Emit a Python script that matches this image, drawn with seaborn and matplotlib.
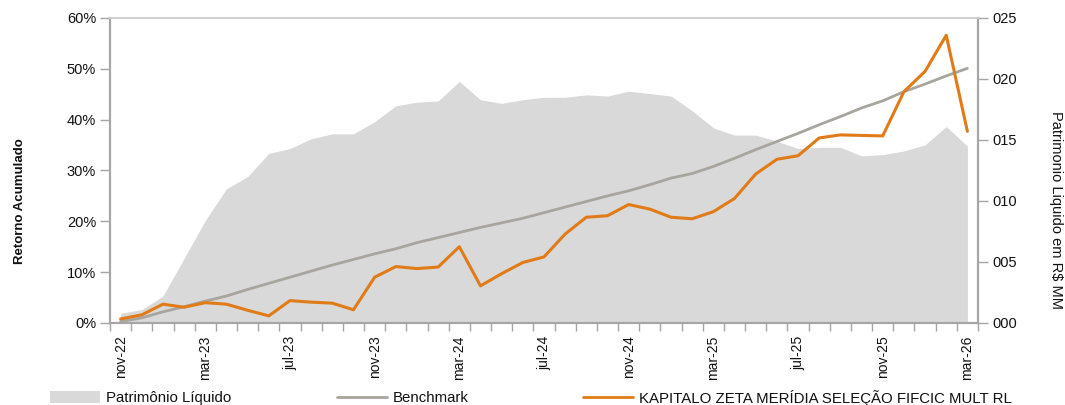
import matplotlib
matplotlib.use("Agg")
import matplotlib.pyplot as plt
from matplotlib.lines import Line2D
from matplotlib.patches import Patch
from matplotlib.ticker import FuncFormatter, FixedLocator
import numpy as np
import pandas as pd
import seaborn as sns

# meses (nov-22 .. mar-26)
months = [
    "nov-22", "dez-22", "jan-23", "fev-23", "mar-23", "abr-23", "mai-23", "jun-23",
    "jul-23", "ago-23", "set-23", "out-23", "nov-23", "dez-23", "jan-24", "fev-24",
    "mar-24", "abr-24", "mai-24", "jun-24", "jul-24", "ago-24", "set-24", "out-24",
    "nov-24", "dez-24", "jan-25", "fev-25", "mar-25", "abr-25", "mai-25", "jun-25",
    "jul-25", "ago-25", "set-25", "out-25", "nov-25", "dez-25", "jan-26", "fev-26",
    "mar-26",
]
shown_labels = ["nov-22", "mar-23", "jul-23", "nov-23", "mar-24", "jul-24",
                "nov-24", "mar-25", "jul-25", "nov-25", "mar-26"]

# retorno acumulado (%)
fund = [0.8, 1.6, 3.7, 3.1, 4.0, 3.7, 2.5, 1.4, 4.4, 4.1, 3.9, 2.6,
        9.0, 11.1, 10.7, 11.0, 15.0, 7.3, 9.7, 11.9, 13.0, 17.5, 20.8, 21.1,
        23.3, 22.4, 20.8, 20.5, 21.9, 24.5, 29.3, 32.2, 32.9, 36.4, 37.0, 36.9,
        36.8, 45.5, 49.5, 56.6, 37.7]
benchmark = [0.3, 1.0, 2.2, 3.2, 4.3, 5.3, 6.6, 7.8, 9.0, 10.2, 11.4, 12.5,
             13.6, 14.6, 15.8, 16.8, 17.8, 18.8, 19.7, 20.6, 21.7, 22.8, 23.9, 25.0,
             26.0, 27.2, 28.5, 29.4, 30.8, 32.4, 34.1, 35.7, 37.3, 39.0, 40.6, 42.3,
             43.7, 45.5, 47.0, 48.6, 50.1]
# patrimonio liquido (R$ MM)
pl = [0.8, 1.1, 2.2, 5.3, 8.4, 11.0, 12.0, 13.9, 14.3, 15.1, 15.5, 15.5,
      16.5, 17.8, 18.1, 18.2, 19.8, 18.3, 18.0, 18.3, 18.5, 18.5, 18.7, 18.6,
      19.0, 18.8, 18.6, 17.4, 16.0, 15.4, 15.4, 14.9, 14.3, 14.4, 14.4, 13.7,
      13.8, 14.1, 14.6, 16.1, 14.5]

fund_name = "KAPITALO ZETA MERÍDIA SELEÇÃO FIFCIC MULT RL"

df = pd.DataFrame({"mes": np.arange(len(months)), "fund": fund,
                   "benchmark": benchmark, "pl": pl})

sns.set_theme(style="white")
plt.rcParams["font.family"] = ["Liberation Sans", "DejaVu Sans"]

AREA = "#d9d9d9"
BENCH = "#a8a59f"
ORANGE = "#e07b17"
AXIS = "#a6a6a6"
TEXT = "#111111"

fig = plt.figure(figsize=(10.65, 4.05), dpi=100)
ax = fig.add_axes([0.1033, 0.2025, 0.8150, 0.7531])
ax2 = ax.twinx()

# area no eixo secundario, atras das linhas
ax2.fill_between(df["mes"], 0, df["pl"], color=AREA, linewidth=0)
ax.set_zorder(ax2.get_zorder() + 1)
ax.patch.set_visible(False)

sns.lineplot(data=df, x="mes", y="benchmark", ax=ax, color=BENCH, linewidth=2.0)
sns.lineplot(data=df, x="mes", y="fund", ax=ax, color=ORANGE, linewidth=2.2)

ax.set_xlim(-0.5, len(months) - 0.5)
ax.set_ylim(0, 60)
ax2.set_ylim(0, 25)

ax.set_yticks(np.arange(0, 61, 10))
ax.yaxis.set_major_formatter(FuncFormatter(lambda v, _: f"{v:.0f}%"))
ax2.set_yticks(np.arange(0, 26, 5))
ax2.yaxis.set_major_formatter(FuncFormatter(lambda v, _: f"{v:03.0f}"))

shown_pos = [months.index(m) for m in shown_labels]
ax.set_xticks(shown_pos)
ax.set_xticklabels(shown_labels, rotation=90, fontsize=10)
ax.xaxis.set_minor_locator(FixedLocator(np.arange(-0.5, len(months), 1.0)))
ax.tick_params(axis="x", which="major", length=0, pad=9, labelcolor=TEXT)
ax.tick_params(axis="x", which="minor", length=6, width=1, color=AXIS, bottom=True)
ax.tick_params(axis="y", length=7, width=1, color=AXIS, labelsize=10.5, pad=3,
               left=True, labelcolor=TEXT)
ax2.tick_params(axis="y", length=7, width=1, color=AXIS, labelsize=10.5, pad=3,
                right=True, labelcolor=TEXT)

for a in (ax, ax2):
    for side in ("left", "right", "bottom"):
        a.spines[side].set_color(AXIS)
        a.spines[side].set_linewidth(1.5)
    a.spines["top"].set_color("#d0d0d0")
    a.spines["top"].set_linewidth(1.2)

ax.set_xlabel("")
ax.set_ylabel("Retorno Acumulado", fontsize=9.5, fontweight="bold", color=TEXT)
ax.yaxis.set_label_coords(-0.097, 0.40)
ax2.set_ylabel("Patrimonio Liquido em R$ MM", fontsize=10.5, rotation=270, color=TEXT)
ax2.yaxis.set_label_coords(1.098, 0.37)

# legenda: tres entradas, cada uma na sua posicao
entries = [
    (Patch(facecolor=AREA, edgecolor="none"), "Patrimônio Líquido", 50),
    (Line2D([0], [0], color=BENCH, linewidth=2.0), "Benchmark", 337),
    (Line2D([0], [0], color=ORANGE, linewidth=2.0), fund_name, 583),
]
for handle, label, xpix in entries:
    fig.legend([handle], [label], loc="center left",
               bbox_to_anchor=(xpix / 1065, 1 - 398 / 405),
               frameon=False, fontsize=10.8, handlelength=3.3, handleheight=0.9,
               handletextpad=0.45, borderpad=0, borderaxespad=0,
               labelcolor=TEXT)

fig.savefig("out.png", dpi=100)
plt.close(fig)
